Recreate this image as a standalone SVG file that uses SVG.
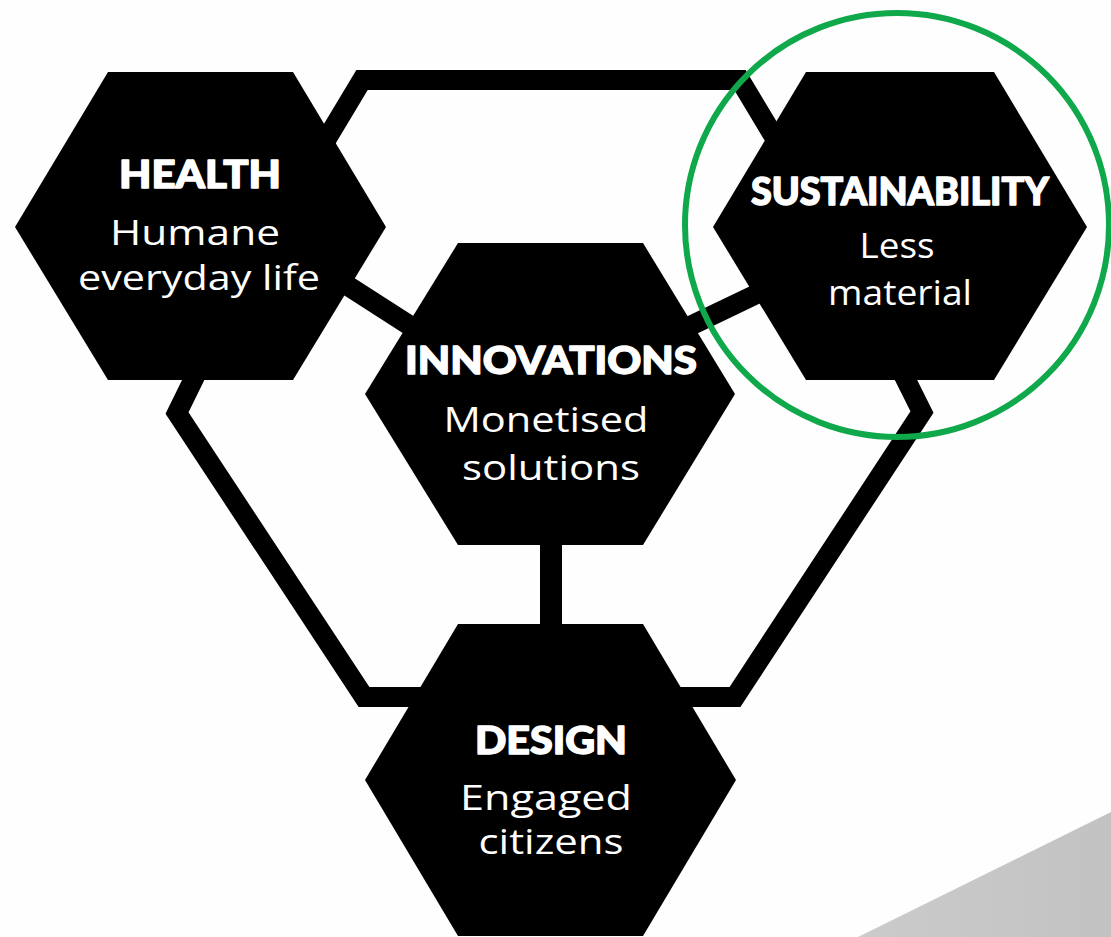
<svg xmlns="http://www.w3.org/2000/svg" width="1111" height="937" viewBox="0 0 1111 937">
<defs>
<style>
.hex{fill:#000;}
.conn{fill:none;stroke:#000;stroke-width:20;stroke-linejoin:miter;stroke-miterlimit:10;}
.title{font-family:"Lato","Inter","Liberation Sans",sans-serif;font-weight:900;font-size:38px;fill:#fff;stroke:#fff;stroke-width:1.4;stroke-linejoin:round;text-anchor:middle;}
.sub{font-family:"Open Sans","Noto Sans","Liberation Sans",sans-serif;font-weight:400;font-size:35px;fill:#fff;text-anchor:middle;}
.ring{fill:none;stroke:#0fa84b;stroke-width:6;}
</style>
<linearGradient id="shade" x1="0" y1="0" x2="1" y2="0">
<stop offset="0" stop-color="#cbcbcb"/>
<stop offset="1" stop-color="#c2c2c2"/>
</linearGradient>
</defs>
<rect x="0" y="0" width="1111" height="937" fill="#fefefe"/>
<polygon points="858,937 1111,812 1111,937" fill="url(#shade)"/>
<g id="connectors">
<polyline class="conn" points="320,150 362,80 740,80 782,150"/>
<polyline class="conn" points="203,360 177,413 364,697 450,697"/>
<polyline class="conn" points="896,360 922,412 735,697 650,697"/>
<line class="conn" x1="300" y1="255" x2="440" y2="345"/>
<line class="conn" x1="640" y1="350" x2="790" y2="278"/>
<line class="conn" x1="551" y1="520" x2="551" y2="650" style="stroke-width:22"/>
</g>
<g id="node-health">
<polygon class="hex" points="108,72 293,72 386,227 293,380 108,380 15,227"/>
<text class="title" x="200" y="188" textLength="162" lengthAdjust="spacingAndGlyphs">HEALTH</text>
<text class="sub" x="195" y="245" textLength="170" lengthAdjust="spacingAndGlyphs">Humane</text>
<text class="sub" x="199" y="290" textLength="242" lengthAdjust="spacingAndGlyphs">everyday life</text>
</g>
<g id="node-sustainability">
<polygon class="hex" points="806,72 994,72 1087,227 994,380 806,380 713,227"/>
<text class="title" x="900" y="205" textLength="298" lengthAdjust="spacingAndGlyphs">SUSTAINABILITY</text>
<text class="sub" x="897" y="258" textLength="75" lengthAdjust="spacingAndGlyphs">Less</text>
<text class="sub" x="900" y="305" textLength="144" lengthAdjust="spacingAndGlyphs">material</text>
</g>
<g id="node-innovations">
<polygon class="hex" points="458,243 643,243 735,394 643,545 458,545 365,394"/>
<text class="title" x="551" y="374" textLength="292" lengthAdjust="spacingAndGlyphs">INNOVATIONS</text>
<text class="sub" x="546" y="432" textLength="205" lengthAdjust="spacingAndGlyphs">Monetised</text>
<text class="sub" x="551" y="480" textLength="178" lengthAdjust="spacingAndGlyphs">solutions</text>
</g>
<g id="node-design">
<polygon class="hex" points="458,624 643,624 736,780 643,936 458,936 365,780"/>
<text class="title" x="551" y="754" textLength="152" lengthAdjust="spacingAndGlyphs">DESIGN</text>
<text class="sub" x="546" y="810" textLength="172" lengthAdjust="spacingAndGlyphs">Engaged</text>
<text class="sub" x="551" y="854" textLength="145" lengthAdjust="spacingAndGlyphs">citizens</text>
</g>
<circle class="ring" cx="897" cy="225" r="212"/>
</svg>
